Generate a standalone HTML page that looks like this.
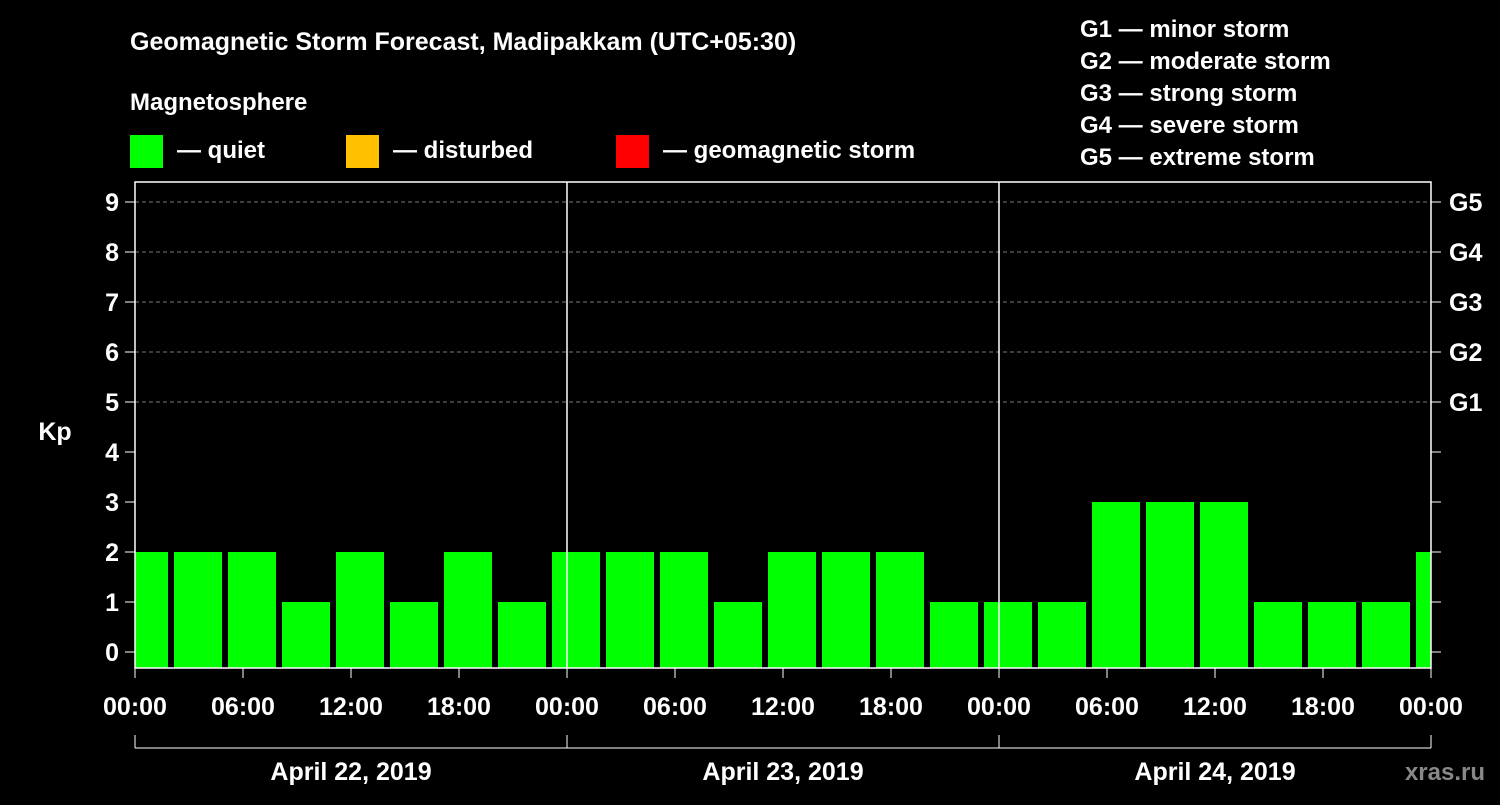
<!DOCTYPE html>
<html><head><meta charset="utf-8"><style>
body{margin:0;background:#000;width:1500px;height:800px;overflow:hidden}
svg{font-family:"Liberation Sans",sans-serif;font-weight:bold}
</style></head><body>
<svg id="c" width="1500" height="800">
<text x="130" y="50" fill="#fff" font-size="25">Geomagnetic Storm Forecast, Madipakkam (UTC+05:30)</text>
<text x="130" y="110" fill="#fff" font-size="24">Magnetosphere</text>
<rect x="130" y="135" width="33" height="33" fill="#00ff00"/>
<text x="177" y="158" fill="#fff" font-size="24">— quiet</text>
<rect x="346" y="135" width="33" height="33" fill="#ffc000"/>
<text x="393" y="158" fill="#fff" font-size="24">— disturbed</text>
<rect x="616" y="135" width="33" height="33" fill="#ff0000"/>
<text x="663" y="158" fill="#fff" font-size="24">— geomagnetic storm</text>
<g fill="#fff" font-size="24">
<text x="1080" y="37">G1 — minor storm</text>
<text x="1080" y="69">G2 — moderate storm</text>
<text x="1080" y="101">G3 — strong storm</text>
<text x="1080" y="133">G4 — severe storm</text>
<text x="1080" y="165">G5 — extreme storm</text>
</g>
<text x="55" y="440" fill="#fff" font-size="25" text-anchor="middle">Kp</text>
<text x="1485" y="780" fill="#888" font-size="24" text-anchor="end">xras.ru</text>
<g id="g"></g>
</svg>
<script>
const values=[2,2,2,1,2,1,2,1,2,2,2,1,2,2,2,1,1,1,3,3,3,1,1,1,2];
const yTicks=[0,1,2,3,4,5,6,7,8,9];
const gLabels=["G1","G2","G3","G4","G5"];
const xTickLabels=["00:00","06:00","12:00","18:00","00:00","06:00","12:00","18:00","00:00","06:00","12:00","18:00","00:00"];
const dates=["April 22, 2019","April 23, 2019","April 24, 2019"];
const firstBarHour=-5/6;
const L=135,R=1431,T=182,B=668;
const x=h=>L+h*(R-L)/72;
const y=v=>652-v*50;
const NS="http://www.w3.org/2000/svg";
const g=document.getElementById('g');
function mk(t,a,txt){const e=document.createElementNS(NS,t);for(const k in a)e.setAttribute(k,a[k]);if(txt!==undefined)e.textContent=txt;g.appendChild(e);return e;}
const clip=mk('clipPath',{id:'pc'});const cr=document.createElementNS(NS,'rect');
cr.setAttribute('x',L);cr.setAttribute('y',T);cr.setAttribute('width',R-L);cr.setAttribute('height',B-T);clip.appendChild(cr);
for(let v=5;v<=9;v++){const e=mk('line',{x1:L,x2:R,y1:y(v),y2:y(v),stroke:'#777','stroke-dasharray':'4,3'});

}
values.forEach((v,i)=>{const h0=firstBarHour+3*i;
const e=mk('rect',{x:x(h0),y:y(v),width:x(h0+3)-x(h0)-6,height:B-y(v),fill:v>=5?'#ff0000':v>=4?'#ffc000':'#00ff00','clip-path':'url(#pc)'});

});
for(let d=1;d<3;d++){const e=mk('line',{x1:x(24*d),x2:x(24*d),y1:T,y2:B,stroke:'#fff','stroke-width':1.5});

}
const fr=mk('rect',{x:L,y:T,width:R-L,height:B-T,fill:'none',stroke:'#fff','stroke-width':1.5});


yTicks.forEach(v=>{mk('line',{x1:L-10,x2:L,y1:y(v),y2:y(v),stroke:'#fff'});mk('line',{x1:R,x2:R+10,y1:y(v),y2:y(v),stroke:'#fff'});
const t=mk('text',{x:L-16,y:y(v)+9,fill:'#fff','font-size':25,'text-anchor':'end'},v);

});
gLabels.forEach((s,i)=>{const t=mk('text',{x:R+18,y:y(5+i)+9,fill:'#fff','font-size':25},s);

});
xTickLabels.forEach((s,i)=>{const xx=x(6*i);mk('line',{x1:xx,x2:xx,y1:B,y2:B+10,stroke:'#fff'});
const t=mk('text',{x:xx,y:B+47,fill:'#fff','font-size':25,'text-anchor':'middle'},s);

});
mk('line',{x1:L,x2:R,y1:748,y2:748,stroke:'#fff'});
for(let d=0;d<=3;d++)mk('line',{x1:x(24*d),x2:x(24*d),y1:735,y2:748,stroke:'#fff'});
dates.forEach((s,i)=>{const t=mk('text',{x:x(24*i+12),y:780,fill:'#fff','font-size':25,'text-anchor':'middle'},s);

});
</script>
</body></html>
